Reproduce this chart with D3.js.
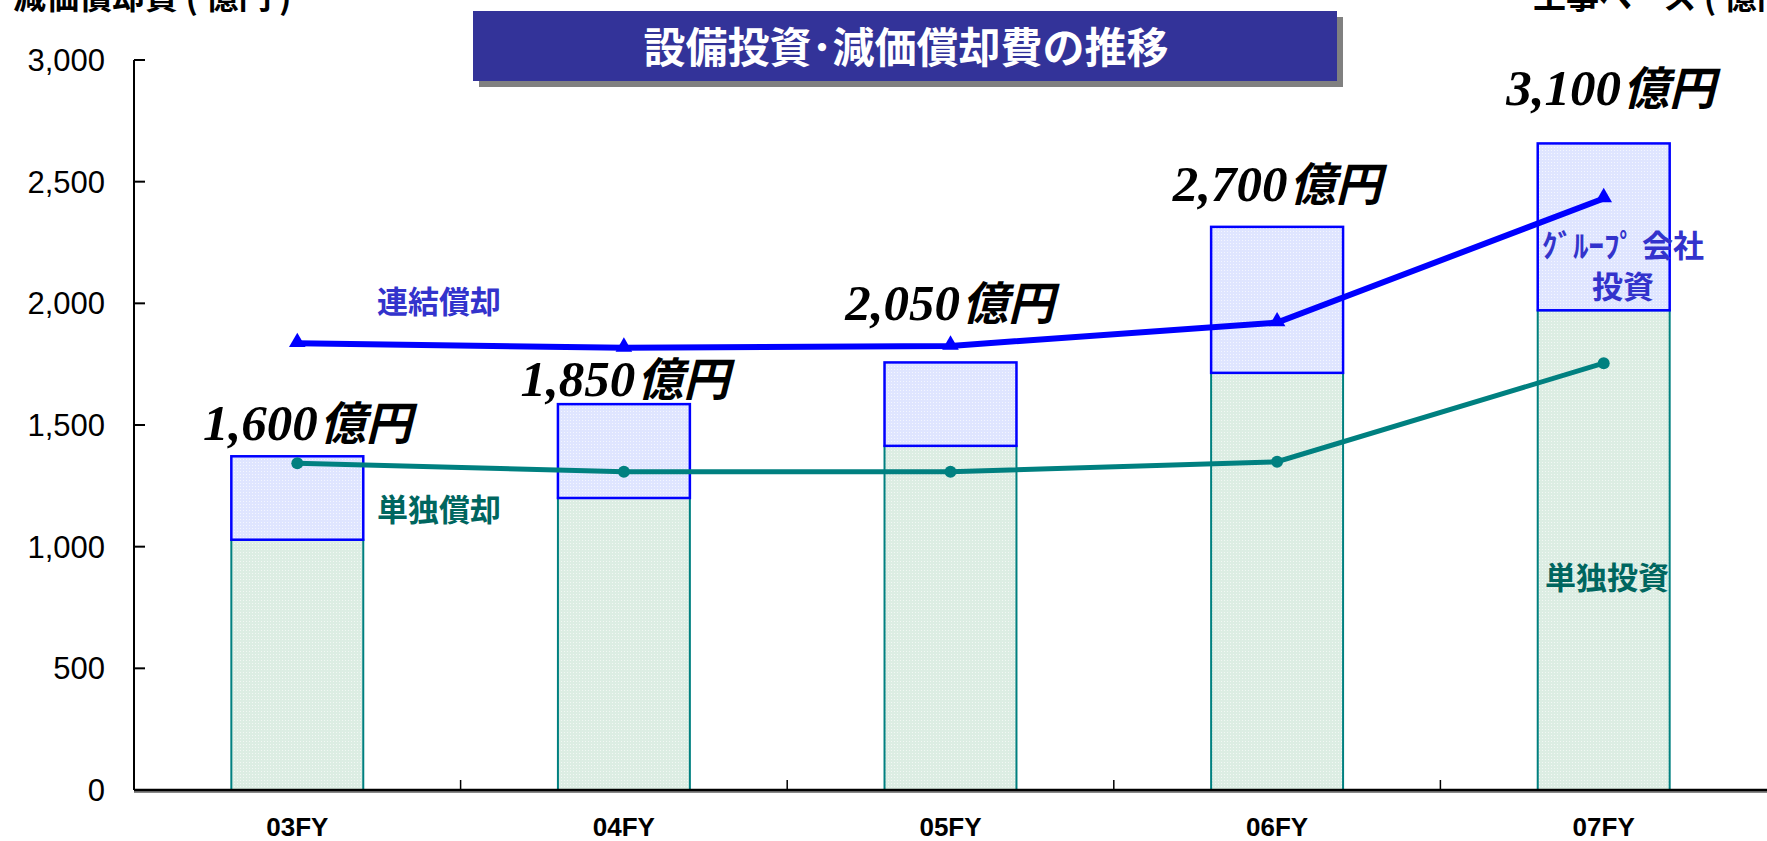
<!DOCTYPE html>
<html>
<head>
<meta charset="utf-8">
<script src="https://cdn.jsdelivr.net/npm/d3@7"></script>
<style>
  body { margin: 0; background: #fff; }
  svg { display: block; }
</style>
</head>
<body>
<div class="canvas-container"></div>
<script>

// data
var categories = ["03FY", "04FY", "05FY", "06FY", "07FY"];
var soloInvest = [1200, 1400, 1650, 2000, 2300];   // 単独投資 (工事ベース)
var groupInvest = [400, 450, 400, 700, 800];       // グループ会社投資
var consolDep = [1836, 1817, 1825, 1921, 2431];    // 連結償却
var soloDep = [1343, 1308, 1308, 1349, 1754];      // 単独償却
var yTicks = [0, 500, 1000, 1500, 2000, 2500, 3000];

var width = 1767, height = 841;
var plot = {left: 134, right: 1767, top: 60, bottom: 790};

var svg = d3.select("div.canvas-container")
    .append("svg")
    .attr("width", width)
    .attr("height", height);

var defs = svg.append("defs");

// fine dotted fills like the original
function dotPattern(id, base, dot) {
    var p = defs.append("pattern")
        .attr("id", id)
        .attr("width", 3).attr("height", 3)
        .attr("patternUnits", "userSpaceOnUse");
    p.append("rect").attr("width", 3).attr("height", 3).attr("fill", base);
    p.append("rect").attr("width", 1).attr("height", 1).attr("fill", dot);
}
dotPattern("pBlue", "#dfe5ff", "#f4f6ff");
dotPattern("pGreen", "#dcede3", "#f2f8f4");

var x = d3.scaleBand()
    .domain(categories)
    .range([plot.left, plot.right])
    .paddingInner(0.596)
    .paddingOuter(0.298);

var y = d3.scaleLinear().domain([0, 3000]).range([plot.bottom, plot.top]);      // 償却
var yR = d3.scaleLinear().domain([0, 3500]).range([plot.bottom, plot.top]);     // 工事ベース

var cx = function (c) { return x(c) + x.bandwidth() / 2; };

// axis titles (cut off at top edge)
svg.append("text")
    .attr("x", 13).attr("y", 9)
    .style("font-family", "'Noto Sans CJK JP'")
    .style("font-weight", "bold")
    .style("font-size", "33px")
    .text("減価償却費 ( 億円 )");

svg.append("text")
    .attr("x", 1533).attr("y", 9)
    .style("font-family", "'Noto Sans CJK JP'")
    .style("font-weight", "bold")
    .style("font-size", "33px")
    .text("工事ベース ( 億円 )");

// bars
var rows = categories.map(function (c, i) {
    return { cat: c, solo: soloInvest[i], group: groupInvest[i], total: soloInvest[i] + groupInvest[i] };
});

svg.selectAll(".solo")
    .data(rows)
    .enter()
    .append("rect")
    .attr("class", "solo")
    .attr("x", function (d) { return x(d.cat); })
    .attr("y", function (d) { return yR(d.solo); })
    .attr("width", x.bandwidth())
    .attr("height", function (d) { return yR(0) - yR(d.solo); })
    .attr("fill", "url(#pGreen)")
    .attr("stroke", "#008080")
    .attr("stroke-width", 2);

svg.selectAll(".group")
    .data(rows)
    .enter()
    .append("rect")
    .attr("class", "group")
    .attr("x", function (d) { return x(d.cat); })
    .attr("y", function (d) { return yR(d.total); })
    .attr("width", x.bandwidth())
    .attr("height", function (d) { return yR(d.solo) - yR(d.total); })
    .attr("fill", "url(#pBlue)")
    .attr("stroke", "#0000ff")
    .attr("stroke-width", 2.5);

// axes
var yAxis = svg.append("g");
yAxis.append("line")
    .attr("x1", plot.left).attr("x2", plot.left)
    .attr("y1", y(3000)).attr("y2", y(0))
    .attr("stroke", "#000").attr("stroke-width", 2);

yAxis.selectAll(".ytick")
    .data(yTicks)
    .enter()
    .append("line")
    .attr("x1", plot.left).attr("x2", plot.left + 11)
    .attr("y1", function (d) { return y(d); })
    .attr("y2", function (d) { return y(d); })
    .attr("stroke", "#000").attr("stroke-width", 2);

yAxis.selectAll(".ylab")
    .data(yTicks)
    .enter()
    .append("text")
    .attr("x", 105)
    .attr("y", function (d) { return y(d); })
    .attr("dy", "0.36em")
    .attr("text-anchor", "end")
    .style("font-family", "'Liberation Sans', Arial, sans-serif")
    .style("font-size", "31px")
    .text(d3.format(","));

svg.append("line")
    .attr("x1", plot.left).attr("x2", plot.right)
    .attr("y1", plot.bottom + 1.5).attr("y2", plot.bottom + 1.5)
    .attr("stroke", "#888").attr("stroke-width", 3);
svg.append("line")
    .attr("x1", plot.left).attr("x2", plot.right)
    .attr("y1", plot.bottom).attr("y2", plot.bottom)
    .attr("stroke", "#000").attr("stroke-width", 2.5);

svg.selectAll(".xtick")
    .data(categories.slice(1))
    .enter()
    .append("line")
    .attr("x1", function (c) { return x(c) - x.step() * x.paddingInner() / 2; })
    .attr("x2", function (c) { return x(c) - x.step() * x.paddingInner() / 2; })
    .attr("y1", plot.bottom).attr("y2", plot.bottom - 10)
    .attr("stroke", "#000").attr("stroke-width", 1.5);

svg.selectAll(".xlab")
    .data(categories)
    .enter()
    .append("text")
    .attr("x", cx)
    .attr("y", 836)
    .attr("text-anchor", "middle")
    .style("font-family", "'Liberation Sans', Arial, sans-serif")
    .style("font-weight", "bold")
    .style("font-size", "26px")
    .text(function (c) { return c; });

// lines
var line = function (vals) {
    return d3.line()
        .x(function (d, i) { return cx(categories[i]); })
        .y(function (d) { return y(d); })(vals);
};

svg.append("path")
    .attr("d", line(soloDep))
    .attr("fill", "none")
    .attr("stroke", "#008080")
    .attr("stroke-width", 5);

svg.selectAll(".dot")
    .data(soloDep)
    .enter()
    .append("circle")
    .attr("cx", function (d, i) { return cx(categories[i]); })
    .attr("cy", function (d) { return y(d); })
    .attr("r", 6)
    .attr("fill", "#008080");

svg.append("path")
    .attr("d", line(consolDep))
    .attr("fill", "none")
    .attr("stroke", "#0000ff")
    .attr("stroke-width", 6);

svg.selectAll(".tri")
    .data(consolDep)
    .enter()
    .append("path")
    .attr("d", d3.symbol().type(d3.symbolTriangle).size(120))
    .attr("transform", function (d, i) { return "translate(" + cx(categories[i]) + "," + (y(d) - 1) + ")"; })
    .attr("fill", "#0000ff");

// total labels above bars (hand placed in the original)
var labelLift = [16, 8, 42, 26, 38];
var labelShift = [10, 1, -1, 0, 7];

var lab = svg.selectAll(".tot")
    .data(rows)
    .enter()
    .append("text")
    .attr("x", function (d, i) { return cx(d.cat) + labelShift[i]; })
    .attr("y", function (d, i) { return yR(d.total) - labelLift[i]; })
    .attr("text-anchor", "middle")
    .style("font-weight", "bold")
    .style("font-style", "italic");
lab.append("tspan")
    .style("font-family", "'Liberation Serif', 'Times New Roman', serif")
    .style("font-size", "51px")
    .text(function (d) { return d3.format(",")(d.total); });
lab.append("tspan")
    .attr("dx", 2)
    .style("font-family", "'Noto Sans CJK JP'")
    .style("font-size", "46px")
    .text("億円");

// series annotations
function note(txt, xx, yy, col, size) {
    svg.append("text")
        .attr("x", xx).attr("y", yy)
        .attr("fill", col)
        .style("font-family", "'Noto Sans CJK JP'")
        .style("font-weight", "bold")
        .style("font-size", size + "px")
        .text(txt);
}
note("連結償却", 377, 313, "#3333cc", 31);
note("単独償却", 377, 521, "#00665f", 31);
note("ｸﾞﾙｰﾌﾟ 会社", 1542, 257, "#3333cc", 31);
note("投資", 1592, 298, "#3333cc", 31);
note("単独投資", 1545, 589, "#00665f", 31);

// title box
var tb = svg.append("g");
tb.append("rect")
    .attr("x", 479).attr("y", 17)
    .attr("width", 864).attr("height", 70)
    .attr("fill", "#808080");
tb.append("rect")
    .attr("x", 473).attr("y", 11)
    .attr("width", 864).attr("height", 70)
    .attr("fill", "#333399");
tb.append("text")
    .attr("x", 906).attr("y", 63)
    .attr("text-anchor", "middle")
    .attr("fill", "#fff")
    .style("font-family", "'Noto Sans CJK JP'")
    .style("font-weight", "bold")
    .style("font-size", "42px")
    .text("設備投資･減価償却費の推移");

</script>
</body>
</html>
